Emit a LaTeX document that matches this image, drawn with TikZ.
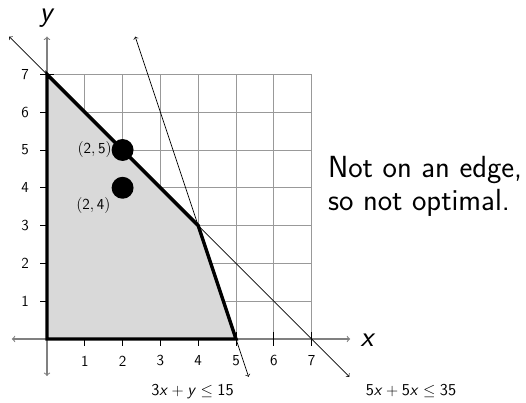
\documentclass[tikz,border=0pt]{standalone}
\usetikzlibrary{arrows}
\renewcommand{\familydefault}{\sfdefault}
\newcommand{\vx}{\textsf{\textit{x}}}
\newcommand{\vy}{\textsf{\textit{y}}}
\newcommand{\sfn}[1]{\textsf{#1}}
\begin{document}
\begin{tikzpicture}[
  gridline/.style={gray!80, line width=0.5pt},
  axisline/.style={gray, line width=0.8pt},
  ticklab/.style={font=\fontsize{11.5}{12}\selectfont},
  conline/.style={black, line width=0.5pt, <->},
  region/.style={fill=gray!30, draw=black, line width=2.6pt},
  dot/.style={circle, fill=black, minimum size=0.58cm, inner sep=0pt},
  conlab/.style={font=\fontsize{12.5}{13}\selectfont},
  axlab/.style={font=\fontsize{22}{24}\selectfont, anchor=base, inner sep=0pt},
  note/.style={font=\fontsize{23}{24}\selectfont, anchor=base west, inner sep=0pt}
]
\useasboundingbox (-1.243,-1.667) rectangle (12.672,8.968);
\fill[gray!30] (0,0) -- (0,7) -- (4,3) -- (5,0) -- cycle;
\draw[gridline] (0,0) grid (7,7);
\coordinate (xl) at (-0.93,0);
\coordinate (xr) at (8.02,0);
\coordinate (yb) at (0,-0.98);
\coordinate (yt) at (0,8);
\draw[axisline, <->] (xl) -- (xr);
\draw[axisline, <->] (yb) -- (yt);
\foreach \i in {1,...,7} {
  \draw[black, line width=0.6pt] (\i,-0.18) -- (\i,0.18);
  \draw[black, line width=0.6pt] (-0.18,\i) -- (0.18,\i);
  \node[ticklab] (tx\i) at (\i,-0.58) {\i};
  \node[ticklab] (ty\i) at (-0.58,\i) {\i};
}
\draw[region] (0,0) -- (0,7) -- (4,3) -- (5,0) -- cycle;
\coordinate (a1) at (-1,8);
\coordinate (a2) at (8,-1);
\coordinate (b1) at (7/3,8);
\coordinate (b2) at (16/3,-1);
\draw[conline] (a1) -- (a2);
\draw[conline] (b1) -- (b2);
\node[dot] (p25) at (2,5) {};
\node[dot] (p24) at (2,4) {};
\node[ticklab, anchor=east, inner sep=0pt] (l25) at (1.72,5) {$(\sfn{2}, \sfn{5})$};
\node[ticklab] (l24) at (1.23,3.54) {$(\sfn{2}, \sfn{4})$};
\node[axlab] (xlab) at (8.49,-0.19) {\vx};
\node[axlab] (ylab) at (0,8.4) {\vy};
\node[conlab] (c1) at (3.85,-1.38) {$\sfn{3}\vx + \vy \leq \sfn{15}$};
\node[conlab] (c2) at (9.63,-1.38) {$\sfn{5}\vx + \sfn{5}\vx \leq \sfn{35}$};
\node[note] (n1) at (7.43,4.26) {Not on an edge,};
\node[note] (n2) at (7.43,3.41) {so not optimal.};
\end{tikzpicture}
\end{document}
